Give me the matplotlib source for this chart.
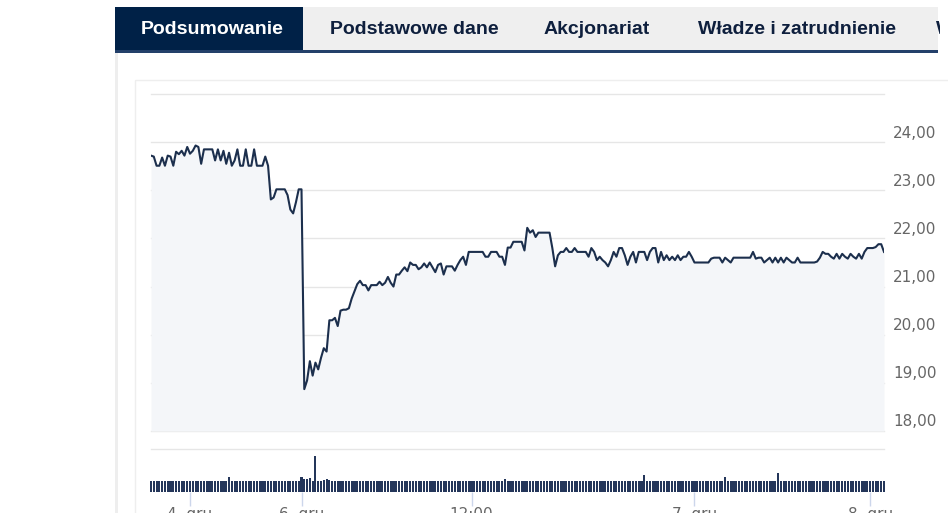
#!/usr/bin/env python3
import matplotlib
matplotlib.use("Agg")
import matplotlib.pyplot as plt
from matplotlib.patches import Rectangle
from matplotlib.transforms import offset_copy, blended_transform_factory

# Notowania - kurs (ordinal axis, one point per interval)
price = [
    23.72, 23.70, 23.51, 23.51, 23.68, 23.51, 23.72, 23.70, 23.51, 23.80,
    23.75, 23.82, 23.72, 23.90, 23.76, 23.82, 23.93, 23.90, 23.55, 23.85,
    23.85, 23.85, 23.85, 23.62, 23.85, 23.62, 23.82, 23.55, 23.78, 23.51,
    23.62, 23.85, 23.51, 23.51, 23.85, 23.51, 23.51, 23.85, 23.51, 23.51,
    23.51, 23.70, 23.51, 22.81, 22.85, 23.02, 23.02, 23.02, 23.02, 22.90,
    22.60, 22.52, 22.75, 23.02, 23.02, 18.87, 19.05, 19.45, 19.15, 19.42,
    19.28, 19.52, 19.72, 19.65, 20.30, 20.30, 20.35, 20.18, 20.50, 20.52,
    20.52, 20.55, 20.75, 20.90, 21.05, 21.12, 21.03, 21.03, 20.92, 21.03,
    21.03, 21.03, 21.10, 21.03, 21.08, 21.20, 21.08, 21.00, 21.25, 21.25,
    21.33, 21.40, 21.32, 21.50, 21.45, 21.45, 21.36, 21.40, 21.48, 21.40,
    21.50, 21.40, 21.30, 21.45, 21.48, 21.25, 21.42, 21.42, 21.42, 21.33,
    21.45, 21.55, 21.62, 21.45, 21.72, 21.72, 21.72, 21.72, 21.72, 21.72,
    21.62, 21.62, 21.72, 21.72, 21.72, 21.62, 21.62, 21.45, 21.81, 21.81,
    21.93, 21.93, 21.93, 21.93, 21.75, 22.22, 22.12, 22.17, 22.03, 22.12,
    22.12, 22.12, 22.12, 22.12, 21.80, 21.42, 21.65, 21.72, 21.72, 21.80,
    21.72, 21.72, 21.80, 21.72, 21.72, 21.72, 21.72, 21.62, 21.80, 21.72,
    21.55, 21.62, 21.55, 21.50, 21.42, 21.55, 21.72, 21.62, 21.80, 21.80,
    21.65, 21.45, 21.62, 21.72, 21.50, 21.72, 21.72, 21.72, 21.55, 21.72,
    21.80, 21.80, 21.50, 21.72, 21.55, 21.65, 21.55, 21.62, 21.55, 21.65,
    21.55, 21.62, 21.62, 21.72, 21.62, 21.50, 21.50, 21.50, 21.50, 21.50,
    21.50, 21.58, 21.60, 21.60, 21.60, 21.50, 21.60, 21.55, 21.50, 21.60,
    21.60, 21.60, 21.60, 21.60, 21.60, 21.60, 21.72, 21.58, 21.60, 21.60,
    21.50, 21.55, 21.60, 21.50, 21.60, 21.50, 21.60, 21.50, 21.60, 21.55,
    21.50, 21.50, 21.60, 21.50, 21.50, 21.50, 21.50, 21.50, 21.50, 21.52,
    21.60, 21.72, 21.68, 21.68, 21.62, 21.58, 21.68, 21.58, 21.68, 21.62,
    21.58, 21.68, 21.62, 21.58, 21.68, 21.58, 21.72, 21.80, 21.80, 21.80,
    21.82, 21.88, 21.88, 21.72,
]

# Wolumen (relative)
volume = [
    1.0, 1.0, 1.0, 1.0, 1.0, 1.0, 1.0, 1.0, 1.0, 1.0, 1.0, 1.0,
    1.0, 1.0, 1.0, 1.0, 1.0, 1.0, 1.0, 1.0, 1.0, 1.0, 1.0, 1.0,
    1.0, 1.0, 1.0, 1.0, 1.38, 1.0, 1.0, 1.0, 1.0, 1.0, 1.0, 1.0,
    1.0, 1.0, 1.0, 1.0, 1.0, 1.0, 1.0, 1.0, 1.0, 1.0, 1.0, 1.0,
    1.0, 1.0, 1.0, 1.0, 1.0, 1.0, 1.35, 1.22, 1.2, 1.25, 1.0, 3.3,
    1.0, 1.0, 1.12, 1.15, 1.1, 1.0, 1.0, 1.0, 1.0, 1.0, 1.0, 1.0,
    1.0, 1.0, 1.0, 1.0, 1.0, 1.0, 1.0, 1.0, 1.0, 1.0, 1.0, 1.0,
    1.0, 1.0, 1.0, 1.0, 1.0, 1.0, 1.0, 1.0, 1.0, 1.0, 1.0, 1.0,
    1.0, 1.0, 1.0, 1.0, 1.0, 1.0, 1.0, 1.0, 1.0, 1.0, 1.0, 1.0,
    1.0, 1.0, 1.0, 1.0, 1.0, 1.0, 1.0, 1.0, 1.0, 1.0, 1.0, 1.0,
    1.0, 1.0, 1.0, 1.0, 1.0, 1.0, 1.0, 1.15, 1.0, 1.0, 1.0, 1.0,
    1.0, 1.0, 1.0, 1.0, 1.0, 1.0, 1.0, 1.0, 1.0, 1.0, 1.0, 1.0,
    1.0, 1.0, 1.0, 1.0, 1.0, 1.0, 1.0, 1.0, 1.0, 1.0, 1.0, 1.0,
    1.0, 1.0, 1.0, 1.0, 1.0, 1.0, 1.0, 1.0, 1.0, 1.0, 1.0, 1.0,
    1.0, 1.0, 1.0, 1.0, 1.0, 1.0, 1.0, 1.0, 1.0, 1.5, 1.0, 1.0,
    1.0, 1.0, 1.0, 1.0, 1.0, 1.0, 1.0, 1.0, 1.0, 1.0, 1.0, 1.0,
    1.0, 1.0, 1.0, 1.0, 1.0, 1.0, 1.0, 1.0, 1.0, 1.0, 1.0, 1.0,
    1.0, 1.0, 1.4, 1.0, 1.0, 1.0, 1.0, 1.0, 1.0, 1.0, 1.0, 1.0,
    1.0, 1.0, 1.0, 1.0, 1.0, 1.0, 1.0, 1.0, 1.0, 1.7, 1.0, 1.0,
    1.0, 1.0, 1.0, 1.0, 1.0, 1.0, 1.0, 1.0, 1.0, 1.0, 1.0, 1.0,
    1.0, 1.0, 1.0, 1.0, 1.0, 1.0, 1.0, 1.0, 1.0, 1.0, 1.0, 1.0,
    1.0, 1.0, 1.0, 1.0, 1.0, 1.0, 1.0, 1.0, 1.0, 1.0, 1.0, 1.0,
]

tick_index = [14, 54, 115, 195, 258]
tick_labels = ["4. gru", "6. gru", "12:00", "7. gru", "8. gru"]
price_ticks = [18, 19, 20, 21, 22, 23, 24, 25]

tabs = ["Podsumowanie", "Podstawowe dane", "Akcjonariat", "Władze i zatrudnienie"]
tab_centers = [212, 414, 597, 797]

W, H = 948, 513
NAVY = "#002147"
LINE = "#1c2f4d"
GRID = "#e6e6e6"


def px(x0, y0, x1, y1):
    return [x0 / W, 1 - y1 / H, (x1 - x0) / W, (y1 - y0) / H]


def rect(x0, y0, x1, y1, **kw):
    l, b, w, h = px(x0, y0, x1, y1)
    fig.add_artist(Rectangle((l, b), w, h, transform=fig.transFigure, **kw))


fig = plt.figure(figsize=(W / 100, H / 100), dpi=100)
fig.patch.set_facecolor("white")

# page frame: tab bar, panel borders
rect(115, 7, 938, 50, facecolor="#efefef", edgecolor="none")
rect(115, 7, 303, 50, facecolor=NAVY, edgecolor="none")
rect(115, 50, 938, 52.5, facecolor="#23406a", edgecolor="none")
rect(115, 52.5, 118, 513, facecolor="#eeeeee", edgecolor="none")
rect(135, 80, 960, 520, facecolor="none", edgecolor="#eeeeee", lw=1)

tab_font = ["Liberation Sans", "DejaVu Sans"]
for i, (name, cx) in enumerate(zip(tabs, tab_centers)):
    fig.text(cx / W, 1 - 29 / H, name, ha="center", va="center",
             fontsize=14, fontweight="bold", family=tab_font,
             color="white" if i == 0 else "#0e1f3d")
fig.text(936 / W, 1 - 29 / H, "W", ha="left", va="center", fontsize=14,
         fontweight="bold", family=tab_font, color="#0e1f3d")
rect(940, 0, 948, 60, facecolor="white", edgecolor="none", zorder=5)

# price pane
ax = fig.add_axes(px(151, 94, 884, 431))
x = list(range(len(price)))
ax.fill_between(x, price, 18, color="#f4f6f9", lw=0)
ax.plot(x, price, color=LINE, lw=1.5, solid_joinstyle="round")
ax.set_xlim(0, len(price) - 1)
ax.set_ylim(18, 25)
for v in price_ticks:
    ax.axhline(v, color=GRID, lw=1, zorder=0, clip_on=False)
ax.set_xticks([])
ax.set_yticks([])
for s in ax.spines.values():
    s.set_visible(False)
ax.patch.set_alpha(0)

trans = blended_transform_factory(ax.transAxes, ax.transData)
trans = offset_copy(trans, fig=fig, x=9, y=9, units="dots")
for v in price_ticks[:-1]:
    ax.text(1.0, v, f"{v},00", transform=trans, ha="left", va="center",
            fontsize=11, color="#666666")

# volume pane
axv = fig.add_axes(px(151, 449, 884, 492))
axv.bar(x, volume, width=0.75, color="#24365a", lw=0, clip_on=False)
axv.set_xlim(0, len(price) - 1)
axv.set_ylim(0, 3.9)
axv.axhline(3.9, color=GRID, lw=1, zorder=0, clip_on=False)
axv.set_yticks([])
axv.set_xticks(tick_index)
axv.set_xticklabels(tick_labels)
axv.tick_params(axis="x", length=10, width=1, color="#ccd6eb", pad=1,
                labelsize=11, labelcolor="#666666")
for s in axv.spines.values():
    s.set_visible(False)
axv.patch.set_alpha(0)

fig.savefig("out.png", dpi=100)
